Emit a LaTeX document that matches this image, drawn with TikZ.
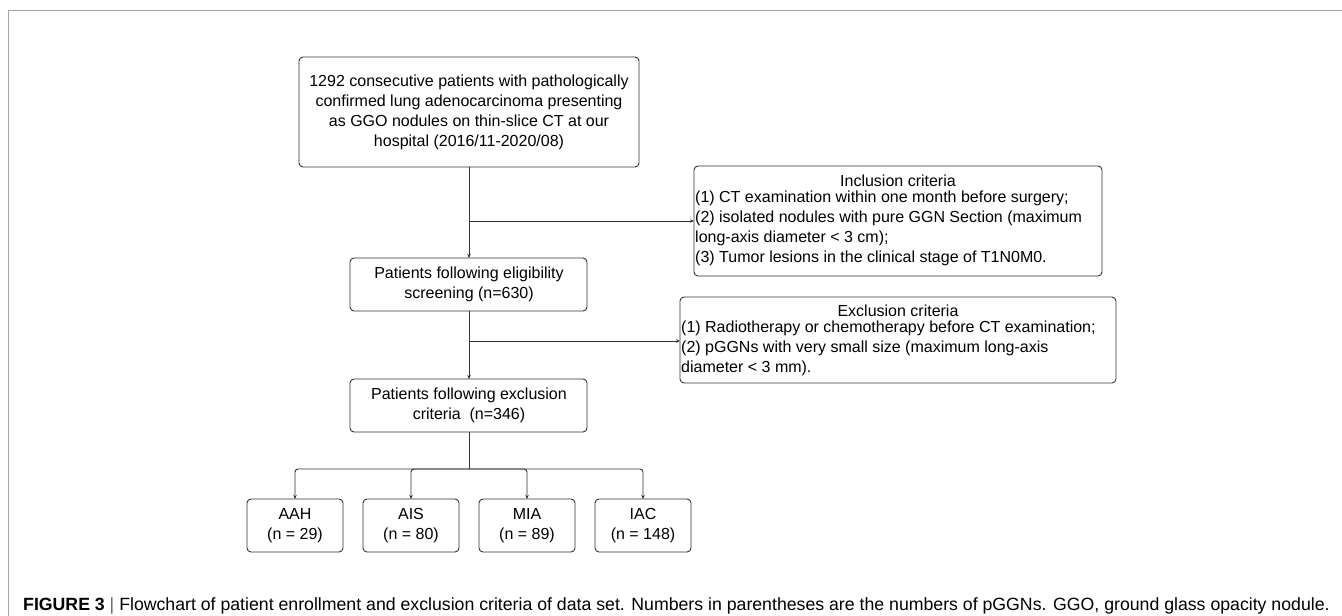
\documentclass[tikz,border=0pt]{standalone}
\usepackage{fontspec}
\setmainfont{Liberation Sans}
\usetikzlibrary{arrows.meta}
\begin{document}
\begin{tikzpicture}[x=1pt,y=-1pt,
  box/.style={draw=black!80,line width=0.9pt,rounded corners=4pt,inner sep=0pt},
  txt/.style={font=\fontsize{16}{20}\selectfont,align=center,inner sep=0pt},
  ltxt/.style={font=\fontsize{16}{20}\selectfont,align=left,inner sep=0pt,anchor=north west},
  arr/.style={draw=black!80,line width=0.9pt,-{Stealth[length=4pt,width=3.5pt]}},
  ln/.style={draw=black!80,line width=0.9pt}]
\useasboundingbox (0,0) rectangle (1342,616);
\draw[black!35,line width=1.2pt] (1342,10.5) -- (8.5,10.5) -- (8.5,616);
% boxes
\draw[box] (299,57) rectangle (639,167);
\node[txt] (b1) at (469,112) {1292 consecutive patients with pathologically\\confirmed lung adenocarcinoma presenting\\as GGO nodules on thin-slice CT at our\\hospital (2016/11-2020/08)};
\coordinate (b1b) at (469,167);
\draw[box] (350,258) rectangle (587,311);
\node[txt] (b2) at (469,284.5) {Patients following eligibility\\screening (n=630)};
\coordinate (b2t) at (469,258);
\coordinate (b2b) at (469,311);
\draw[box] (350,379) rectangle (587,432);
\node[txt] (b3) at (469,405.5) {Patients following exclusion\\criteria\ \ (n=346)};
\coordinate (b3t) at (469,379);
\coordinate (b3b) at (469,432);
% inclusion
\draw[box] (694,166) rectangle (1102,276);
\coordinate (inc) at (694,221);
\node[txt] (inch) at (898,181) {Inclusion criteria};
\node[ltxt] (incl) at (695,191) {(1) CT examination within one month before surgery;\\(2) isolated nodules with pure GGN Section (maximum\\long-axis diameter < 3 cm);\\(3) Tumor lesions in the clinical stage of T1N0M0.};
% exclusion
\draw[box] (680,297) rectangle (1116,383);
\coordinate (exc) at (680,341);
\node[txt] (exch) at (898,311) {Exclusion criteria};
\node[ltxt] (excl) at (681,321) {(1) Radiotherapy or chemotherapy before CT examination;\\(2) pGGNs with very small size (maximum long-axis\\diameter < 3 mm).};
% bottom
\foreach \n/\a/\b/\x in {aah/AAH/29/295,ais/AIS/80/411,mia/MIA/89/527,iac/IAC/148/643}{
  \draw[box] (\x-48,499) rectangle (\x+48,552);
  \node[txt] (\n) at (\x,525.5) {\a\\(n = \b)};
  \coordinate (\n t) at (\x,499);
}
% connectors
\coordinate (j1) at (469,221);
\coordinate (j2) at (469,341);
\coordinate (j3) at (469,469);
\draw[arr] (b1b) -- (b2t);
\draw[arr] (j1) -- (inc);
\draw[arr] (b2b) -- (b3t);
\draw[arr] (j2) -- (exc);
\draw[ln] (b3b) -- (j3);
\foreach \n/\x in {aah/295,ais/411,mia/527,iac/643}{
  \draw[arr,rounded corners=3pt] (j3) -- (\x,469) -- (\n t);
}
% caption
\node[anchor=base west,inner sep=0pt,font=\fontsize{17.7}{20}\selectfont] (cap) at (23,610) {\textbf{FIGURE 3}\ \textcolor{black!60}{|}\ Flowchart of patient enrollment and exclusion criteria of data set. Numbers in parentheses are the numbers of pGGNs. GGO, ground glass opacity nodule.};
\end{tikzpicture}
\end{document}
